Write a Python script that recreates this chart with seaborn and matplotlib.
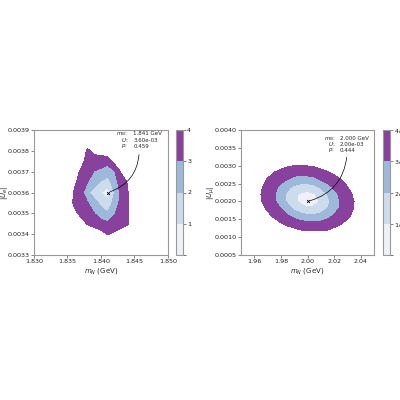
import numpy as np
import seaborn as sns
import matplotlib.pyplot as plt
from matplotlib.colors import ListedColormap, BoundaryNorm

sns.set_style("ticks", {"axes.edgecolor": "#999999", "xtick.color": "#555555", "ytick.color": "#555555"})

# ---- left panel: electron mixing, significance grid (sigma) ----
x_e = [1.834, 1.835, 1.836, 1.837, 1.838, 1.839, 1.840, 1.841, 1.842, 1.843, 1.844, 1.845, 1.846]
y_e = [0.00335, 0.00340, 0.00345, 0.00350, 0.00355, 0.00360, 0.00365, 0.00370, 0.00375, 0.00380, 0.00385]
sig_e = [
    [6, 6, 6, 6, 6, 5.5, 5.2, 5.0, 5.0, 5.0, 5.2, 6, 6],
    [6, 6, 6, 5.5, 5.0, 4.7, 4.4, 3.95, 4.2, 4.4, 4.3, 5.0, 6],
    [6, 6, 5.2, 4.5, 3.9, 3.6, 3.35, 3.2, 3.4, 3.7, 3.95, 4.7, 6],
    [6, 5.2, 4.3, 3.7, 3.4, 3.0, 2.5, 2.1, 2.9, 3.5, 3.9, 4.7, 6],
    [6, 4.7, 3.8, 3.4, 3.05, 2.4, 1.7, 1.3, 2.4, 3.3, 3.85, 4.8, 6],
    [6, 4.9, 3.9, 3.4, 2.2, 1.5, 1.0, 0.6, 2.0, 3.3, 3.95, 5.0, 6],
    [6, 5.0, 4.2, 3.6, 3.0, 2.5, 1.9, 1.5, 2.6, 3.4, 4.1, 4.8, 5.6],
    [6, 5.5, 4.6, 3.8, 3.4, 2.95, 2.8, 2.5, 2.9, 4.1, 4.8, 5.5, 6],
    [6, 6, 5.2, 4.4, 3.6, 3.5, 3.4, 3.3, 4.4, 5.0, 5.5, 6, 6],
    [6, 6, 5.5, 4.9, 3.8, 4.3, 4.5, 4.9, 5.5, 6, 6, 6, 6],
    [6, 6, 6, 5.5, 4.8, 5, 5.5, 6, 6, 6, 6, 6, 6],
]
best_e = (1.841, 0.0036)
text_e = ["1.841 GeV", "3.60e-03", "0.459"]

# ---- right panel: muon mixing ----
x_mu = [1.960, 1.965, 1.970, 1.975, 1.980, 1.985, 1.990, 1.995, 2.000,
        2.005, 2.010, 2.015, 2.020, 2.025, 2.030, 2.035, 2.040]
y_mu = [0.0010, 0.0012, 0.0014, 0.0016, 0.0018, 0.0020, 0.0022, 0.0024, 0.0026, 0.0028, 0.0030, 0.0032]
sig_mu = [
    [6, 6, 6, 5.7, 5.4, 5.2, 5.0, 4.8, 4.7, 4.7, 4.7, 4.8, 4.9, 5.1, 5.3, 5.6, 5.9],
    [6, 5.8, 5.4, 5.0, 4.7, 4.4, 4.2, 4.0, 3.9, 3.9, 3.9, 4.0, 4.2, 4.4, 4.7, 5.0, 5.4],
    [5.6, 5.2, 4.8, 4.4, 4.0, 3.7, 3.5, 3.3, 3.2, 3.15, 3.2, 3.4, 3.6, 3.9, 4.2, 4.6, 5.0],
    [5.2, 4.7, 4.25, 3.8, 3.45, 3.1, 2.7, 2.35, 2.15, 2.15, 2.35, 2.65, 3.1, 3.45, 3.8, 4.25, 4.7],
    [4.8, 4.3, 3.85, 3.4, 3.0, 2.35, 1.8, 1.35, 1.15, 1.2, 1.5, 2.0, 2.6, 3.15, 3.6, 4.05, 4.5],
    [4.6, 4.05, 3.6, 3.15, 2.5, 1.85, 1.2, 0.75, 0.4, 0.7, 1.15, 1.75, 2.45, 3.1, 3.55, 4.0, 4.5],
    [4.5, 4.0, 3.55, 3.1, 2.45, 1.8, 1.2, 0.85, 0.7, 0.9, 1.4, 2.0, 2.65, 3.25, 3.7, 4.15, 4.65],
    [4.55, 4.1, 3.65, 3.25, 2.75, 2.2, 1.8, 1.55, 1.5, 1.7, 2.1, 2.65, 3.15, 3.55, 3.95, 4.45, 4.95],
    [4.75, 4.3, 3.9, 3.55, 3.25, 2.95, 2.6, 2.45, 2.5, 2.65, 3.0, 3.3, 3.6, 3.95, 4.4, 4.85, 5.3],
    [5.05, 4.65, 4.3, 3.95, 3.7, 3.5, 3.35, 3.3, 3.35, 3.45, 3.65, 3.85, 4.15, 4.5, 4.9, 5.3, 5.7],
    [5.45, 5.1, 4.8, 4.5, 4.3, 4.1, 4.0, 3.98, 4.02, 4.1, 4.3, 4.55, 4.8, 5.1, 5.45, 5.85, 6],
    [5.9, 5.6, 5.35, 5.1, 4.9, 4.8, 4.7, 4.7, 4.75, 4.85, 5.0, 5.2, 5.45, 5.7, 6, 6, 6],
]
best_mu = (2.000, 0.0020)
text_mu = ["2.000 GeV", "2.00e-03", "0.444"]

levels = [0, 1, 2, 3, 4]
level_labels = [r"1$\sigma$", r"2$\sigma$", r"3$\sigma$", r"4$\sigma$"]
cmap = ListedColormap(["#edf2f8", "#ccdcec", "#9db9d9", "#88419d"])
norm = BoundaryNorm(levels, cmap.N)

fig = plt.figure(figsize=(4, 4), dpi=100)

panels = [
    dict(x=x_e, y=y_e, z=sig_e, best=best_e, txt=text_e, ylabel=r"$|U_e|$",
         rect=[0.085, 0.3625, 0.335, 0.3125], crect=[0.44, 0.3625, 0.0175, 0.3125],
         xlim=(1.830, 1.850), ylim=(0.0033, 0.0039),
         xticks=[1.830, 1.835, 1.840, 1.845, 1.850], xfmt="%.3f",
         yticks=np.arange(0.0033, 0.00391, 0.0001),
         lab_x=1.8440, val_x=1.8448, ty=0.003881, dy=0.000029, apos=(1.8457, 0.003795)),
    dict(x=x_mu, y=y_mu, z=sig_mu, best=best_mu, txt=text_mu, ylabel=r"$|U_\mu|$",
         rect=[0.6025, 0.3625, 0.3325, 0.3125], crect=[0.9575, 0.3625, 0.0175, 0.3125],
         xlim=(1.95, 2.05), ylim=(0.0005, 0.0040),
         xticks=[1.96, 1.98, 2.00, 2.02, 2.04], xfmt="%.2f",
         yticks=np.arange(0.0005, 0.00401, 0.0005),
         lab_x=2.0208, val_x=2.0245, ty=0.003748, dy=0.000154, apos=(2.0297, 0.00331)),
]

for p in panels:
    ax = fig.add_axes(p["rect"])
    cax = fig.add_axes(p["crect"])
    cs = ax.contourf(p["x"], p["y"], np.array(p["z"]), levels=levels, cmap=cmap, norm=norm)
    ax.scatter([p["best"][0]], [p["best"][1]], marker="x", s=4, color="black", linewidths=0.6, zorder=5)
    ax.set_xlim(p["xlim"])
    ax.set_ylim(p["ylim"])
    ax.set_xticks(p["xticks"])
    ax.set_xticklabels([p["xfmt"] % v for v in p["xticks"]])
    ax.set_yticks(p["yticks"])
    ax.set_yticklabels(["%.4f" % v for v in p["yticks"]])
    ax.tick_params(labelsize=4.6, length=2, width=0.5, pad=1, labelcolor="#222222")
    ax.set_xlabel(r"$m_N$ (GeV)", fontsize=5, labelpad=1)
    ax.set_ylabel(p["ylabel"], fontsize=5)
    ax.yaxis.set_label_coords(-0.18, 0.5)
    for s in ax.spines.values():
        s.set_linewidth(0.8)

    for i, lab in enumerate([r"$m_N$:", r"$U$:", r"$p$:"]):
        yy = p["ty"] - i * p["dy"]
        ax.text(p["lab_x"], yy, lab, fontsize=4.0, ha="right", va="center")
        ax.text(p["val_x"], yy, p["txt"][i], fontsize=4.0, ha="left", va="center")
    ax.annotate("", xy=p["best"], xytext=p["apos"],
                arrowprops=dict(arrowstyle="-", color="black", lw=0.5,
                                connectionstyle="arc3,rad=-0.35"))

    cb = fig.colorbar(cs, cax=cax)
    cb.set_ticks([1, 2, 3, 4], labels=level_labels)
    cb.ax.tick_params(labelsize=4.6, length=2, width=0.5, pad=1, color="#555555", labelcolor="#222222")
    cb.outline.set_edgecolor("#999999")
    cb.outline.set_linewidth(0.8)

fig.savefig("out.png", dpi=100)
